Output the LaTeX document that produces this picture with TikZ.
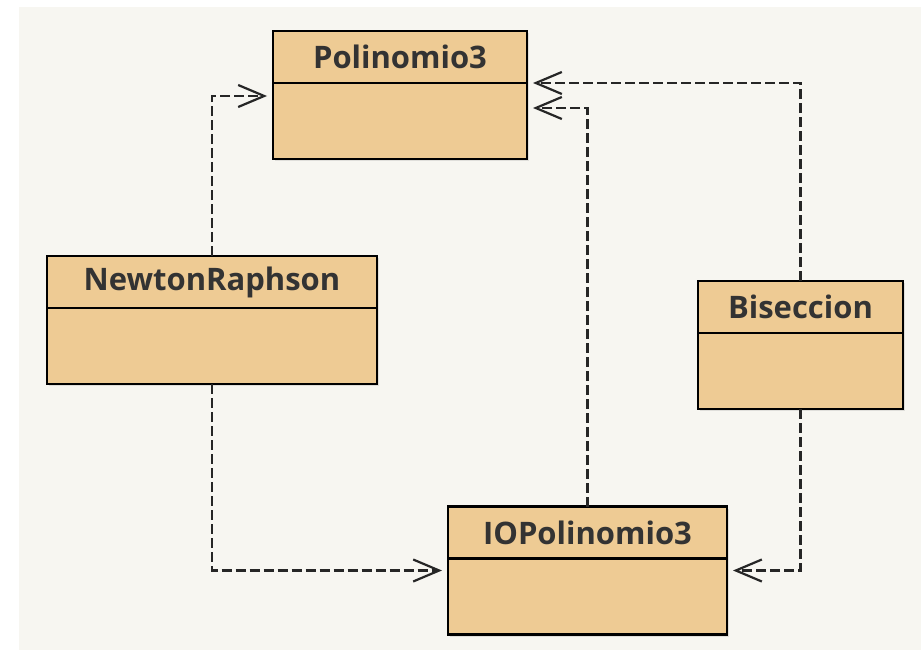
\documentclass[tikz,border=0pt]{standalone}
\usepackage{fontspec}
\setmainfont{Open Sans}
\usetikzlibrary{arrows.meta,positioning,shadows}
\definecolor{classfill}{RGB}{238,203,148}
\definecolor{canvasbg}{RGB}{247,246,241}
\definecolor{classtext}{RGB}{51,51,51}

\begin{document}
\begin{tikzpicture}[
    x=1pt, y=-1pt,
    classhead/.style={rectangle, draw, line width=2.4pt, fill=classfill, minimum height=52pt, inner sep=0pt, outer sep=0pt, font=\fontsize{31}{36}\selectfont\bfseries, text=classtext, drop shadow={shadow xshift=2pt, shadow yshift=-2pt, opacity=0.2}},
    classbody/.style={rectangle, draw, line width=2.4pt, fill=classfill, minimum height=76pt, inner sep=0pt, outer sep=0pt, drop shadow={shadow xshift=2pt, shadow yshift=-2pt, opacity=0.2}},
    dep/.style={-{Straight Barb[length=26pt,width=22pt]}, line width=2.2pt, draw=black!85, dash pattern=on 10pt off 4pt, shorten >=6pt}
]
\useasboundingbox (0,0) rectangle (921,653);
\fill[canvasbg] (19,7) rectangle (921,650);

% Classes
\node[classhead, minimum width=254pt] (poli) at (400,57) {Polinomio3};
\node[classbody, minimum width=254pt, below=0pt of poli] (polib) {};

\node[classhead, minimum width=330pt] (newton) at (212,282) {NewtonRaphson};
\node[classbody, minimum width=330pt, below=0pt of newton] (newtonb) {};

\node[classhead, minimum width=205pt] (bisec) at (800.5,307) {Biseccion};
\node[classbody, minimum width=205pt, below=0pt of bisec] (bisecb) {};

\node[classhead, minimum width=279pt] (io) at (587.5,532.5) {IOPolinomio3};
\node[classbody, minimum width=279pt, below=0pt of io] (iob) {};

% Dependencies
\draw[dep] (newton.north) |- ([yshift=-13pt]polib.north west);
\draw[dep] (newtonb.south) |- ([yshift=-12pt]iob.north west);
\draw[dep] (bisec.north) |- (polib.north east);
\draw[dep] (io.north) |- ([yshift=-25pt]polib.north east);
\draw[dep] (bisecb.south) |- ([yshift=-12pt]iob.north east);

\end{tikzpicture}
\end{document}
